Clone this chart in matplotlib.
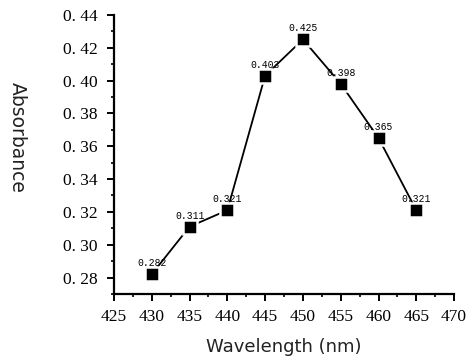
import matplotlib
matplotlib.use("Agg")
import matplotlib.pyplot as plt
from matplotlib.ticker import MultipleLocator, FuncFormatter

wavelength = [430, 435, 440, 445, 450, 455, 460, 465]
absorbance = [0.282, 0.311, 0.321, 0.403, 0.425, 0.398, 0.365, 0.321]
labels = ["0.282", "0.311", "0.321", "0.403", "0.425", "0.398", "0.365", "0.321"]

fig = plt.figure(figsize=(4.73, 3.62), dpi=100)
ax = fig.add_axes([0.241, 0.188, 0.719, 0.771])

ax.plot(wavelength, absorbance, color="black", lw=1.3, marker="s", ms=10.5,
        mfc="black", mec="white", mew=1.8, zorder=3)

for x, y, t in zip(wavelength, absorbance, labels):
    ax.annotate(t, (x, y), xytext=(0, 5.8), textcoords="offset points",
                ha="center", va="baseline", fontsize=7, family="Liberation Mono", zorder=4)

ax.set_xlim(425, 470)
ax.set_ylim(0.27, 0.44)
ax.xaxis.set_major_locator(MultipleLocator(5))
ax.xaxis.set_minor_locator(MultipleLocator(2.5))
ax.yaxis.set_major_locator(MultipleLocator(0.02))
ax.yaxis.set_minor_locator(MultipleLocator(0.01))
ax.yaxis.set_major_formatter(FuncFormatter(lambda v, p: "0. %02d" % round(v * 100)))

for s in ["top", "right"]:
    ax.spines[s].set_visible(False)
for s in ["left", "bottom"]:
    ax.spines[s].set_linewidth(1.6)

ax.tick_params(which="major", direction="out", length=5, width=1.4, labelsize=12.5)
ax.tick_params(axis="y", which="major", pad=7)
ax.tick_params(axis="x", which="major", pad=6)
ax.tick_params(which="minor", direction="out", length=2.5, width=1.2)
for lab in ax.get_xticklabels() + ax.get_yticklabels():
    lab.set_family("Liberation Serif")

ax.set_xlabel("Wavelength (nm)", fontsize=13, family="DejaVu Sans", labelpad=9, color="#222222")
ax.set_ylabel("Absorbance", fontsize=13.5, family="DejaVu Sans", rotation=270,
              va="center", ha="center", color="#222222")
ax.yaxis.set_label_coords(-0.285, 0.56)

fig.savefig("out.png", dpi=100)
